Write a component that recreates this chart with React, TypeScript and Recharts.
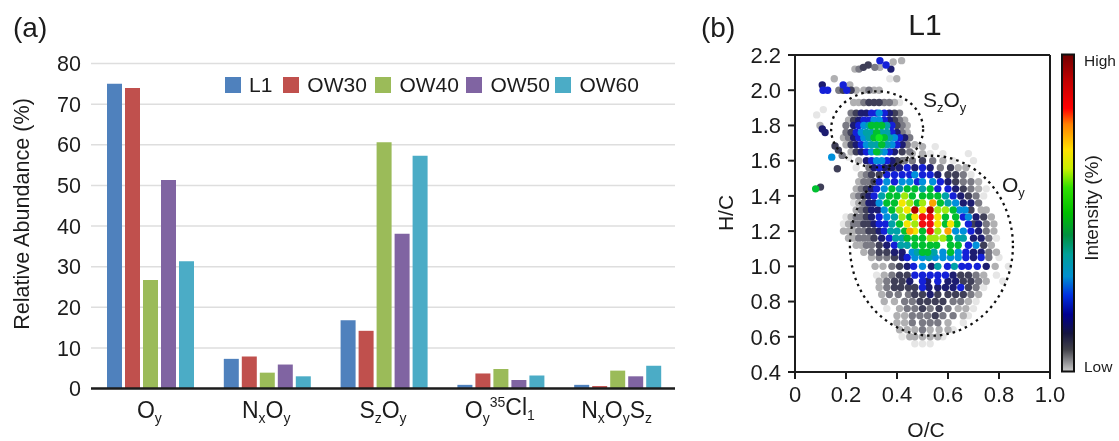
import React from "react";
import {
  BarChart, Bar, XAxis, YAxis, CartesianGrid, Legend,
  ScatterChart, Scatter, ReferenceLine,
} from "recharts";

const categories = ["Oy", "NxOy", "SzOy", "Oy35Cl1", "NxOySz"];
const seriesNames = ["L1", "OW30", "OW40", "OW50", "OW60"];
const seriesColors = ["#4f81bd", "#c0504d", "#9bbb59", "#8064a2", "#4bacc6"];
const valuesL1 = [75, 7.3, 16.8, 0.9, 0.9];
const valuesOW30 = [74, 7.9, 14.2, 3.7, 0.6];
const valuesOW40 = [26.7, 3.9, 60.6, 4.8, 4.4];
const valuesOW50 = [51.3, 5.9, 38.1, 2.1, 3.0];
const valuesOW60 = [31.3, 3.0, 57.3, 3.2, 5.6];
const abundanceTicks = [0, 10, 20, 30, 40, 50, 60, 70, 80];
const ocTicks = [0, 0.2, 0.4, 0.6, 0.8, 1.0];
const hcTicks = [0.4, 0.6, 0.8, 1.0, 1.2, 1.4, 1.6, 1.8, 2.0, 2.2];

const tickParts: Record<string, [string, number][]> = {
  Oy: [["O", 0], ["y", 1]],
  NxOy: [["N", 0], ["x", 1], ["O", 0], ["y", 1]],
  SzOy: [["S", 0], ["z", 1], ["O", 0], ["y", 1]],
  Oy35Cl1: [["O", 0], ["y", 1], ["35", -1], ["Cl", 0], ["1", 1]],
  NxOySz: [["N", 0], ["x", 1], ["O", 0], ["y", 1], ["S", 0], ["z", 1]],
};

const barRows = categories.map((c, i) => ({
  c, L1: valuesL1[i], OW30: valuesOW30[i], OW40: valuesOW40[i], OW50: valuesOW50[i], OW60: valuesOW60[i],
}));

// Each row: H/C, O/C values, intensity class of each point (one letter each).
type Row = [number, number[], string];
const szRows: Row[] = [
  [2.0, [0.27, 0.29, 0.31, 0.33], "GDGG"],
  [1.93, [0.23, 0.25, 0.27, 0.29, 0.31, 0.33, 0.35, 0.37, 0.39, 0.41], "GGDKKKDDGL"],
  [1.87, [0.22, 0.24, 0.26, 0.28, 0.30, 0.32, 0.33, 0.35, 0.37, 0.39, 0.41], "DKNNBBABNKD"],
  [1.83, [0.21, 0.23, 0.25, 0.27, 0.29, 0.31, 0.33, 0.35, 0.37, 0.39, 0.41, 0.43], "GKNBBAABNKDG"],
  [1.80, [0.20, 0.23, 0.25, 0.27, 0.29, 0.30, 0.32, 0.34, 0.36, 0.38, 0.40, 0.42, 0.44], "DNBATVVVTBKDG"],
  [1.76, [0.20, 0.22, 0.24, 0.26, 0.28, 0.30, 0.32, 0.34, 0.36, 0.38, 0.40, 0.42, 0.44], "DKBATTVTTBNDG"],
  [1.73, [0.19, 0.21, 0.23, 0.25, 0.27, 0.29, 0.31, 0.33, 0.35, 0.37, 0.39, 0.41, 0.43, 0.45], "GDNBATVWVTABND"],
  [1.69, [0.20, 0.22, 0.24, 0.26, 0.28, 0.30, 0.32, 0.34, 0.36, 0.38, 0.40, 0.42, 0.44, 0.47], "GKNBATTVTABNDG"],
  [1.65, [0.22, 0.24, 0.26, 0.28, 0.30, 0.32, 0.33, 0.35, 0.37, 0.39, 0.42, 0.45], "GKNBAVTABNKD"],
  [1.60, [0.25, 0.28, 0.30, 0.32, 0.34, 0.36, 0.38, 0.40, 0.43, 0.46], "GNBAABNKDG"],
  [1.56, [0.29, 0.31, 0.33, 0.35, 0.37, 0.40], "DNBNKD"],
];
const oRows: Row[] = [
  [1.68, [0.45, 0.50, 0.55], "LGL"],
  [1.64, [0.44, 0.46, 0.50, 0.53, 0.58, 0.68], "LGGLLL"],
  [1.60, [0.42, 0.46, 0.50, 0.54, 0.58, 0.62, 0.70], "DDKDGLL"],
  [1.56, [0.24, 0.38, 0.41, 0.44, 0.47, 0.50, 0.53, 0.57, 0.61, 0.64, 0.67], "LNNBNBNDKGG"],
  [1.52, [0.26, 0.28, 0.30, 0.33, 0.36, 0.39, 0.42, 0.45, 0.47, 0.50, 0.53, 0.56, 0.60, 0.63, 0.66, 0.69], "GDKKBBBBABBNKKDL"],
  [1.48, [0.25, 0.27, 0.29, 0.31, 0.33, 0.36, 0.39, 0.42, 0.45, 0.48, 0.50, 0.54, 0.57, 0.60, 0.63, 0.66, 0.69, 0.72], "GDDKBABAABAABNKDDG"],
  [1.44, [0.24, 0.26, 0.28, 0.30, 0.32, 0.35, 0.38, 0.41, 0.44, 0.47, 0.50, 0.53, 0.56, 0.60, 0.63, 0.66, 0.69, 0.72, 0.75], "GDKNBAVTVVTVBBNKDGL"],
  [1.40, [0.23, 0.25, 0.27, 0.29, 0.31, 0.34, 0.37, 0.40, 0.43, 0.46, 0.50, 0.53, 0.56, 0.59, 0.62, 0.65, 0.68, 0.71, 0.74], "GDKNBTVVMVVVVTBNKDL"],
  [1.36, [0.23, 0.25, 0.27, 0.29, 0.31, 0.33, 0.36, 0.39, 0.42, 0.45, 0.48, 0.50, 0.54, 0.57, 0.60, 0.63, 0.66, 0.69, 0.72], "LGDNNAVVYMVMOVTANND"],
  [1.32, [0.24, 0.26, 0.28, 0.30, 0.325, 0.35, 0.38, 0.41, 0.44, 0.47, 0.50, 0.53, 0.56, 0.59, 0.62, 0.645, 0.667, 0.69, 0.73, 0.75], "GDKNNAVMYXYXMMVAAKGG"],
  [1.28, [0.20, 0.22, 0.24, 0.26, 0.28, 0.30, 0.33, 0.36, 0.39, 0.42, 0.45, 0.47, 0.50, 0.53, 0.56, 0.59, 0.63, 0.66, 0.68, 0.71, 0.74, 0.77], "LGDDKNBATMVYRRYVVBANKG"],
  [1.24, [0.19, 0.21, 0.23, 0.25, 0.27, 0.29, 0.31, 0.33, 0.355, 0.38, 0.41, 0.44, 0.47, 0.50, 0.53, 0.56, 0.59, 0.61, 0.635, 0.68, 0.70, 0.72, 0.75, 0.78], "LGDDKKNBBTVYMRRYVYVBKNDG"],
  [1.20, [0.19, 0.21, 0.23, 0.25, 0.27, 0.29, 0.31, 0.33, 0.35, 0.375, 0.40, 0.43, 0.45, 0.47, 0.50, 0.53, 0.56, 0.60, 0.63, 0.66, 0.69, 0.72, 0.75, 0.78], "GGGDDKKNBTTVOYVRMOAABNDG"],
  [1.16, [0.21, 0.23, 0.25, 0.27, 0.29, 0.31, 0.34, 0.37, 0.395, 0.42, 0.44, 0.47, 0.50, 0.53, 0.55, 0.58, 0.605, 0.64, 0.66, 0.70, 0.73, 0.76, 0.79], "GGDDDKNBTTVVVMMMVTTNNDL"],
  [1.12, [0.24, 0.26, 0.28, 0.30, 0.33, 0.36, 0.39, 0.415, 0.44, 0.47, 0.50, 0.53, 0.555, 0.61, 0.64, 0.68, 0.71, 0.74, 0.77], "GGDDKNBTTVVVVVVBAKG"],
  [1.08, [0.27, 0.30, 0.33, 0.36, 0.39, 0.42, 0.46, 0.48, 0.50, 0.52, 0.545, 0.58, 0.61, 0.64, 0.67, 0.70, 0.73, 0.76, 0.79], "GDKKNNATVVTAVABNNDG"],
  [1.05, [0.30, 0.33, 0.36, 0.39, 0.42, 0.44, 0.47, 0.50, 0.525, 0.55, 0.58, 0.61, 0.64, 0.67, 0.70, 0.73, 0.76, 0.80], "GDDKNBAATAAAABNBDL"],
  [1.00, [0.314, 0.345, 0.38, 0.41, 0.44, 0.465, 0.50, 0.535, 0.56, 0.598, 0.625, 0.654, 0.68, 0.715, 0.75, 0.785, 0.837], "GGDKNBANTBTBBBNGL"],
  [0.95, [0.32, 0.35, 0.38, 0.41, 0.44, 0.47, 0.50, 0.53, 0.56, 0.59, 0.62, 0.65, 0.68, 0.71, 0.74, 0.79], "LGDKKBBBBBNKKDGL"],
  [0.915, [0.33, 0.36, 0.39, 0.42, 0.45, 0.50, 0.52, 0.56, 0.60, 0.63, 0.66, 0.69, 0.72, 0.75, 0.815], "GDKKNBNBNNKKDGL"],
  [0.88, [0.33, 0.36, 0.39, 0.415, 0.445, 0.47, 0.50, 0.525, 0.56, 0.59, 0.62, 0.65, 0.68, 0.71, 0.74], "GDKKKKBNNNNBKDL"],
  [0.84, [0.34, 0.37, 0.405, 0.445, 0.47, 0.50, 0.53, 0.56, 0.60, 0.63, 0.66, 0.69, 0.72], "GDDDKKNKKKKDG"],
  [0.80, [0.35, 0.39, 0.43, 0.46, 0.49, 0.52, 0.55, 0.58, 0.62, 0.65, 0.68, 0.71], "GGDDKKKKDDGL"],
  [0.76, [0.36, 0.41, 0.44, 0.47, 0.50, 0.53, 0.565, 0.60, 0.64, 0.67, 0.70], "LGDDKDKDGGL"],
  [0.72, [0.40, 0.43, 0.46, 0.49, 0.52, 0.55, 0.58, 0.62, 0.66, 0.68], "GGDDDKDDGL"],
  [0.68, [0.40, 0.43, 0.46, 0.50, 0.53, 0.56, 0.60, 0.66], "GGDDDDGL"],
  [0.64, [0.41, 0.44, 0.47, 0.50, 0.53, 0.565, 0.60, 0.62], "GGGDGGGL"],
  [0.60, [0.42, 0.45, 0.47, 0.50, 0.53, 0.56, 0.58], "LGGGGGL"],
  [0.56, [0.47, 0.50, 0.53], "LLL"],
];
const outlierRows: Row[] = [
  [2.168, [0.333, 0.418], "BG"],
  [2.16, [0.385], "G"],
  [2.143, [0.287, 0.357], "KB"],
  [2.13, [0.268, 0.313, 0.333], "KDG"],
  [2.12, [0.235, 0.251, 0.376], "GDN"],
  [2.065, [0.154, 0.372, 0.399], "GLG"],
  [2.03, [0.107, 0.189, 0.215], "NBG"],
  [2.0, [0.11, 0.128, 0.172, 0.189, 0.203, 0.22, 0.24], "BBDKBKG"],
  [1.89, [0.111], "L"],
  [1.86, [0.085], "L"],
  [1.8, [0.098], "G"],
  [1.78, [0.107], "N"],
  [1.76, [0.118], "N"],
  [1.683, [0.157], "K"],
  [1.66, [0.17], "K"],
  [1.63, [0.185], "D"],
  [1.62, [0.144, 0.21], "AL"],
  [1.554, [0.166], "K"],
  [1.45, [0.10], "K"],
  [1.44, [0.081], "V"],
];

const tierOrder = "LGDKNBATVWMYORX";
const tierColors: Record<string, string> = {
  L: "#e6e6e6", G: "#b0b0b2", D: "#7a7a84", K: "#3f3f58", N: "#1c1c70", B: "#1420d8", A: "#0090dc", T: "#00a2a8",
  V: "#00c030", W: "#10e820", M: "#a0ea10", Y: "#f2e600", O: "#fba400", R: "#f21010", X: "#b00000",
};
const allRows = [...oRows, ...szRows, ...outlierRows];
const tierPoints = tierOrder.split("").map((t) => ({
  t,
  pts: allRows.flatMap(([y, xs, tiers]) => xs.flatMap((x, i) => (tiers[i] === t ? [{ x, y }] : []))),
}));

const regionSz = { x: 0.322, y: 1.778 };
const regionO = { x: 0.535, y: 1.117 };

const FONT = "'Liberation Sans', Arial, sans-serif";
const INK = "#1c1c1c";

function CategoryTick(props: any) {
  const { x, y, payload } = props;
  const parts = tickParts[payload.value] || [[payload.value, 0]];
  let prev = 0;
  return (
    <text x={x} y={y + 21} textAnchor="middle" fontFamily={FONT} fontSize={23} fill={INK}>
      {parts.map(([t, lvl], i) => {
        const dy = (lvl - prev) * (lvl === -1 || prev === -1 ? 8 : 5);
        prev = lvl;
        return <tspan key={i} dy={dy} fontSize={lvl === 0 ? 23 : 14}>{t}</tspan>;
      })}
    </text>
  );
}

const legendGaps = [11, 8.5, 7.5, 5.5, 0];
function LegendBox() {
  return (
    <div style={{ display: "flex", alignItems: "center", fontFamily: FONT, fontSize: 21, color: INK, height: 20, whiteSpace: "nowrap" }}>
      {seriesNames.map((n, i) => (
        <span key={n} style={{ display: "flex", alignItems: "center", marginRight: legendGaps[i] }}>
          <span style={{ width: 16, height: 16, background: seriesColors[i], marginRight: 8, display: "inline-block" }} />
          {n}
        </span>
      ))}
    </div>
  );
}

function Dot(color: string) {
  return (p: any) => <circle cx={p.cx} cy={p.cy} r={3.7} fill={color} />;
}
function Ring(rx: number, ry: number) {
  return (p: any) => (
    <ellipse cx={p.cx} cy={p.cy} rx={rx} ry={ry} fill="none" stroke="#111" strokeWidth={2.3} strokeDasharray="2.5 4" />
  );
}

const gradientStops: [number, string][] = [
  [0, "#700000"], [8, "#bf0000"], [17, "#ff0000"], [22, "#ff8000"], [30, "#ffe000"], [36, "#c8f000"], [42, "#30e000"],
  [50, "#00bf00"], [57, "#009040"], [63, "#00a098"], [70, "#0090d0"], [76, "#0030e0"], [82, "#000090"], [88, "#151540"], [93, "#404048"], [100, "#cccccc"],
];

export default function App() {
  const axisLine = { stroke: "#1c1c1c", strokeWidth: 2 };
  return (
    <div style={{ position: "absolute", left: 0, top: 0, width: 1119, height: 441, background: "#fff", overflow: "hidden", filter: "blur(0.35px)" }}>
      <div style={{ position: "absolute", left: 0, top: 0 }}>
        <BarChart width={690} height={441} data={barRows} margin={{ top: 63.5, right: 15, bottom: 0, left: 0 }} barGap={3} barCategoryGap={16}>
          <CartesianGrid vertical={false} stroke="#dedede" strokeWidth={1.5} />
          <XAxis dataKey="c" height={52.5} tick={<CategoryTick />} tickLine={false} axisLine={{ stroke: "#1c1c1c", strokeWidth: 2.5 }} interval={0} />
          <YAxis width={91} domain={[0, 80]} ticks={abundanceTicks} tickLine={false} axisLine={false} tickMargin={4}
            tick={{ fontFamily: FONT, fontSize: 21.5, fill: INK }} />
          <Legend content={<LegendBox />} wrapperStyle={{ position: "absolute", left: 225, top: 75, width: 440, height: 0, bottom: "auto" }} />
          {seriesNames.map((n, i) => (
            <Bar key={n} dataKey={n} name={n} fill={seriesColors[i]} isAnimationActive={false} />
          ))}
        </BarChart>
      </div>
      <div style={{ position: "absolute", left: 700, top: 0 }}>
        <ScatterChart width={380} height={441} margin={{ top: 55, right: 30, bottom: 0, left: 0 }}>
          <XAxis type="number" dataKey="x" domain={[0, 1]} ticks={ocTicks} height={69} tickSize={7} tickMargin={7}
            tickFormatter={(v: number) => (v === 0 ? "0" : v.toFixed(1))} axisLine={axisLine} tickLine={axisLine}
            tick={{ fontFamily: FONT, fontSize: 22, fill: INK }} />
          <YAxis type="number" dataKey="y" domain={[0.4, 2.2]} ticks={hcTicks} width={95} tickSize={7} tickMargin={7}
            tickFormatter={(v: number) => v.toFixed(1)} axisLine={axisLine} tickLine={axisLine}
            tick={{ fontFamily: FONT, fontSize: 22, fill: INK }} />
          <ReferenceLine y={2.2} stroke="#1c1c1c" strokeWidth={2} />
          <ReferenceLine x={1} stroke="#1c1c1c" strokeWidth={2} />
          {tierPoints.map(({ t, pts }) => (
            <Scatter key={t} data={pts} shape={Dot(tierColors[t])} isAnimationActive={false} />
          ))}
          <Scatter data={[regionSz]} shape={Ring(46, 38)} isAnimationActive={false} />
          <Scatter data={[regionO]} shape={Ring(81.5, 90)} isAnimationActive={false} />
        </ScatterChart>
      </div>
      <svg width={1119} height={441} style={{ position: "absolute", left: 0, top: 0, pointerEvents: "none" }} fontFamily={FONT} fill={INK}>
        <defs>
          <linearGradient id="intensity" x1="0" y1="0" x2="0" y2="1">
            {gradientStops.map(([o, c]) => <stop key={o} offset={o + "%"} stopColor={c} />)}
          </linearGradient>
        </defs>
        <text x={13} y={37} fontSize={28}>(a)</text>
        <text x={701} y={37} fontSize={28}>(b)</text>
        <text x={925} y={35} fontSize={30} textAnchor="middle">L1</text>
        <text transform="translate(29,214) rotate(-90)" fontSize={21.6} textAnchor="middle">Relative Abundance (%)</text>
        <text transform="translate(733,213) rotate(-90)" fontSize={21} textAnchor="middle">H/C</text>
        <text x={926} y={437} fontSize={21} textAnchor="middle">O/C</text>
        <text x={923} y={107} fontSize={21}>S<tspan fontSize={13} dy={5}>z</tspan><tspan dy={-5}>O</tspan><tspan fontSize={13} dy={5}>y</tspan></text>
        <text x={1002} y={192} fontSize={21}>O<tspan fontSize={13} dy={5}>y</tspan></text>
        <rect x={1062} y={54.5} width={12} height={317} fill="url(#intensity)" stroke="#111" strokeWidth={2} />
        <text x={1084} y={66} fontSize={15.5}>High</text>
        <text x={1084} y={372} fontSize={15.5}>Low</text>
        <text transform="translate(1098,208) rotate(-90)" fontSize={19} textAnchor="middle">Intensity (%)</text>
      </svg>
    </div>
  );
}
